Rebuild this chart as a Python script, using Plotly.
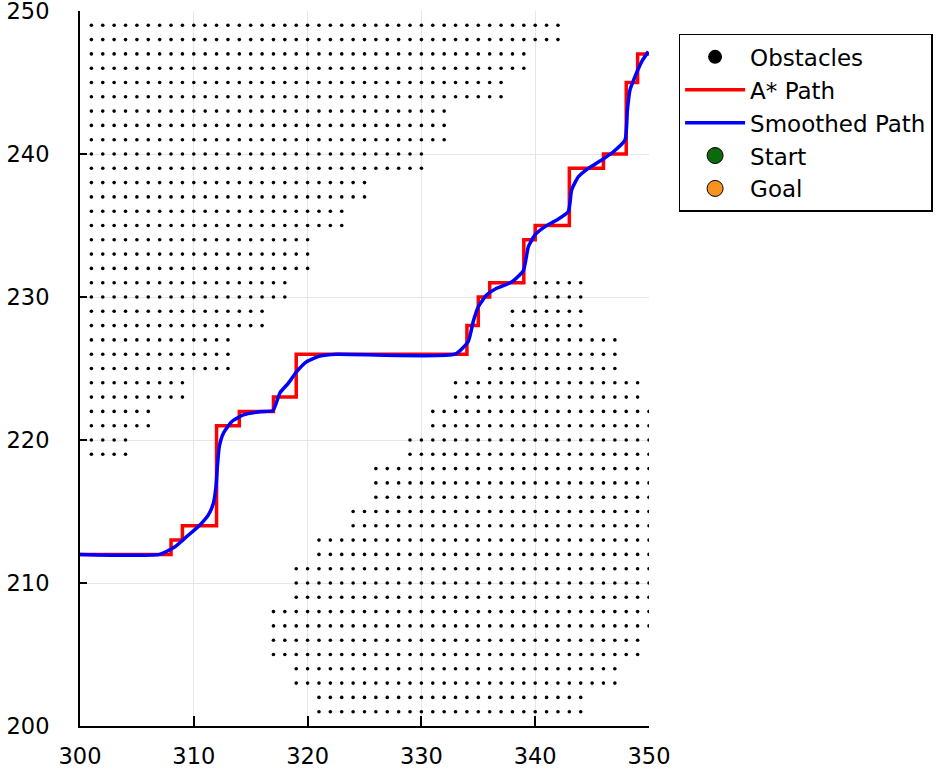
import plotly.graph_objects as go

# obstacle rows: (y, first x, last x), one dot per integer x
obstacle_rows_upper = [
    (249, 301, 342), (248, 301, 342), (247, 301, 339), (246, 301, 339),
    (245, 301, 337), (244, 301, 337), (243, 301, 332), (242, 301, 332),
    (241, 301, 332), (240, 301, 330), (239, 301, 330), (238, 301, 325),
    (237, 301, 325), (236, 301, 323), (235, 301, 323), (234, 301, 320),
    (233, 301, 320), (232, 301, 320), (231, 301, 318), (230, 301, 318),
    (229, 301, 316), (228, 301, 316), (227, 301, 313), (226, 301, 313),
    (225, 301, 313), (224, 301, 309), (223, 301, 309), (222, 301, 306),
    (221, 301, 306), (220, 301, 304), (219, 301, 304),
]
obstacle_rows_lower = [
    (231, 340, 344), (230, 340, 344), (229, 338, 344), (228, 338, 344),
    (227, 336, 347), (226, 336, 347), (225, 336, 347), (224, 333, 349),
    (223, 333, 349), (222, 331, 350), (221, 331, 350), (220, 329, 350),
    (219, 329, 350), (218, 326, 350), (217, 326, 350), (216, 326, 350),
    (215, 324, 350), (214, 324, 350), (213, 321, 350), (212, 321, 350),
    (211, 319, 350), (210, 319, 350), (209, 319, 350), (208, 317, 350),
    (207, 317, 350), (206, 317, 349), (205, 317, 349), (204, 319, 347),
    (203, 319, 347), (202, 321, 344), (201, 321, 344),
]

astar_x = [300, 308, 308, 309, 309, 312, 312, 314, 314, 317, 317, 319, 319,
           334, 334, 335, 335, 336, 336, 339, 339, 340, 340, 343, 343, 346,
           346, 348, 348, 349, 349, 350]
astar_y = [212, 212, 213, 213, 214, 214, 221, 221, 222, 222, 223, 223, 226,
           226, 228, 228, 230, 230, 231, 231, 234, 234, 235, 235, 239, 239,
           240, 240, 245, 245, 247, 247]

smooth_x = [300, 307.0, 308.35, 309.37, 310.54, 311.28, 311.72, 311.95, 312.07,
            312.24, 312.6, 313.33, 314.35, 315.82, 316.95, 317.57, 318.3,
            319.04, 319.92, 321.09, 322.56, 332.95, 334.12, 334.56, 335.0,
            335.73, 336.61, 337.93, 338.96, 339.4, 339.98, 340.86, 341.89,
            342.91, 343.2, 343.79, 344.67, 345.84, 346.87, 347.89, 348.1,
            348.33, 348.77, 349.36, 349.94]
smooth_y = [212, 212, 212.54, 213.24, 214.06, 214.76, 215.57, 216.73, 218.13,
            219.53, 220.47, 221.28, 221.75, 221.98, 222.05, 223.3, 223.96,
            224.78, 225.48, 225.87, 226.0, 226.0, 226.9, 228.3, 229.32,
            230.14, 230.61, 231.05, 231.85, 233.52, 234.34, 234.92, 235.38,
            235.97, 237.48, 238.41, 239.0, 239.58, 240.16, 240.98, 243.08,
            244.48, 245.41, 246.46, 247.16]

x_ticks = [300, 310, 320, 330, 340, 350]
y_ticks = [200, 210, 220, 230, 240, 250]

obs_x, obs_y = [], []
for y, x0, x1 in obstacle_rows_upper + obstacle_rows_lower:
    for x in range(x0, x1 + 1):
        obs_x.append(x)
        obs_y.append(y)

fig = go.Figure()
# legend-only entry so the legend dot is bigger than the plotted dots
fig.add_trace(go.Scatter(x=[None], y=[None], mode="markers", name="Obstacles",
                         marker=dict(color="black", size=14)))
fig.add_trace(go.Scatter(x=obs_x, y=obs_y, mode="markers", showlegend=False,
                         marker=dict(color="black", size=3.6)))
fig.add_trace(go.Scatter(x=astar_x, y=astar_y, mode="lines", name="A* Path",
                         line=dict(color="#ff0000", width=3.5)))
fig.add_trace(go.Scatter(x=smooth_x, y=smooth_y, mode="lines", name="Smoothed Path",
                         line=dict(color="#0000ff", width=3.5, shape="spline", smoothing=0.5)))
# start and goal lie outside the shown window
fig.add_trace(go.Scatter(x=[None], y=[None], mode="markers", name="Start",
                         marker=dict(color="#0b6a0b", size=16, line=dict(color="black", width=1))))
fig.add_trace(go.Scatter(x=[None], y=[None], mode="markers", name="Goal",
                         marker=dict(color="#f7931e", size=16, line=dict(color="black", width=1))))

axis_style = dict(showline=True, linecolor="black", linewidth=2, mirror=False,
                  ticks="inside", tickcolor="black", tickwidth=2,
                  showgrid=True, gridcolor="#e6e6e6", gridwidth=1, zeroline=False,
                  ticklabeloverflow="allow",
                  tickfont=dict(family="DejaVu Sans", size=22.5, color="black"))

fig.update_layout(
    width=948, height=776,
    paper_bgcolor="white", plot_bgcolor="white",
    margin=dict(l=80, r=299, t=11, b=50, autoexpand=False),
    font=dict(family="DejaVu Sans", color="black"),
    xaxis=dict(range=[300, 350], tickvals=x_ticks, ticklen=10, ticklabelstandoff=9, **axis_style),
    yaxis=dict(range=[200, 250], tickvals=y_ticks, ticklen=7, ticklabelstandoff=24, **axis_style),
    legend=dict(x=1.052, y=0.968, xanchor="left", yanchor="top",
                bgcolor="white", bordercolor="black", borderwidth=1.5,
                font=dict(family="DejaVu Sans", size=23, color="black"),
                itemwidth=60, tracegroupgap=0),
)

# page body has a default 8px margin; drop it so the figure sits at the window corner
fig.write_html("out.html", config={"displayModeBar": False},
               post_script="document.body.style.margin='0';")
